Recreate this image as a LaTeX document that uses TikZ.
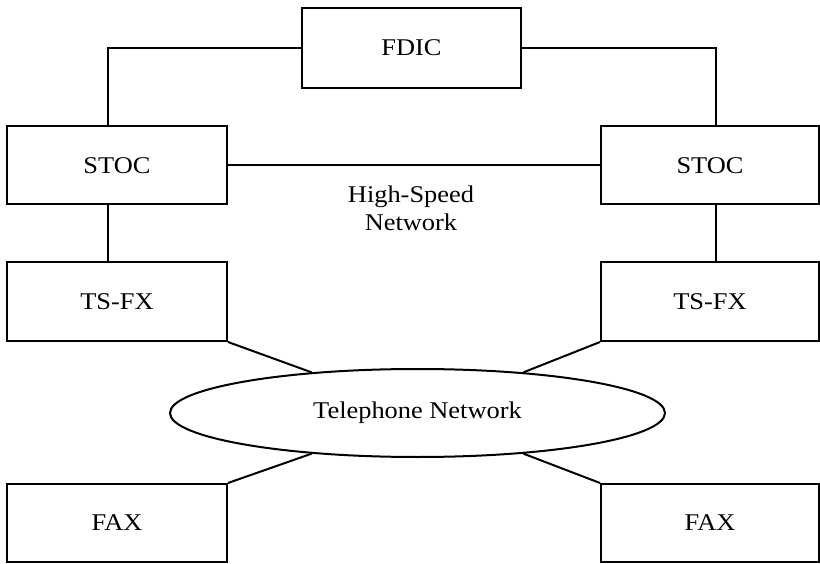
\documentclass[tikz,border=0pt]{standalone}
\usepackage{fontspec}
\setmainfont{Liberation Serif}[FakeStretch=1.1]
\usetikzlibrary{shapes.geometric}
\begin{document}
\begin{tikzpicture}[x=1pt,y=-1pt,
  line width=2pt,
  every node/.style={font=\fontsize{24}{28}\selectfont},
  box/.style={draw, rectangle, inner sep=0pt, minimum height=78pt},
  oval/.style={draw, ellipse, inner sep=0pt, minimum width=495pt, minimum height=88pt},
  lbl/.style={align=center, inner sep=0pt}]
\useasboundingbox (0,0) rectangle (820,564);
\node[box, minimum width=219pt, minimum height=80pt] (fdic) at (411.5,48) {FDIC};
\node[box, minimum width=220pt] (stocL) at (117,165.5) {STOC};
\node[box, minimum width=218pt] (stocR) at (710,165.5) {STOC};
\node[box, minimum width=220pt, minimum height=79pt] (tsL) at (117,301.5) {TS-FX};
\node[box, minimum width=218pt, minimum height=79pt] (tsR) at (710,301.5) {TS-FX};
\node[box, minimum width=220pt] (faxL) at (117,523) {FAX};
\node[box, minimum width=218pt] (faxR) at (710,523) {FAX};
\node[oval] (tel) at (417.5,413) {Telephone Network};
\node[lbl] (hs) at (411,208) {High-Speed\\Network};
\draw (fdic.west) -| ([xshift=-9pt]stocL.north);
\draw (fdic.east) -| ([xshift=6pt]stocR.north);
\draw (stocL.east) -- (stocR.west);
\draw ([xshift=-9pt]stocL.south) -- ([xshift=-9pt]tsL.north);
\draw ([xshift=6pt]stocR.south) -- ([xshift=6pt]tsR.north);
\draw (tsL.south east) -- (tel.159);
\draw (tsR.south west) -- (tel.21.5);
\draw (faxL.north east) -- (tel.201);
\draw (faxR.north west) -- (tel.339);
\end{tikzpicture}
\end{document}
